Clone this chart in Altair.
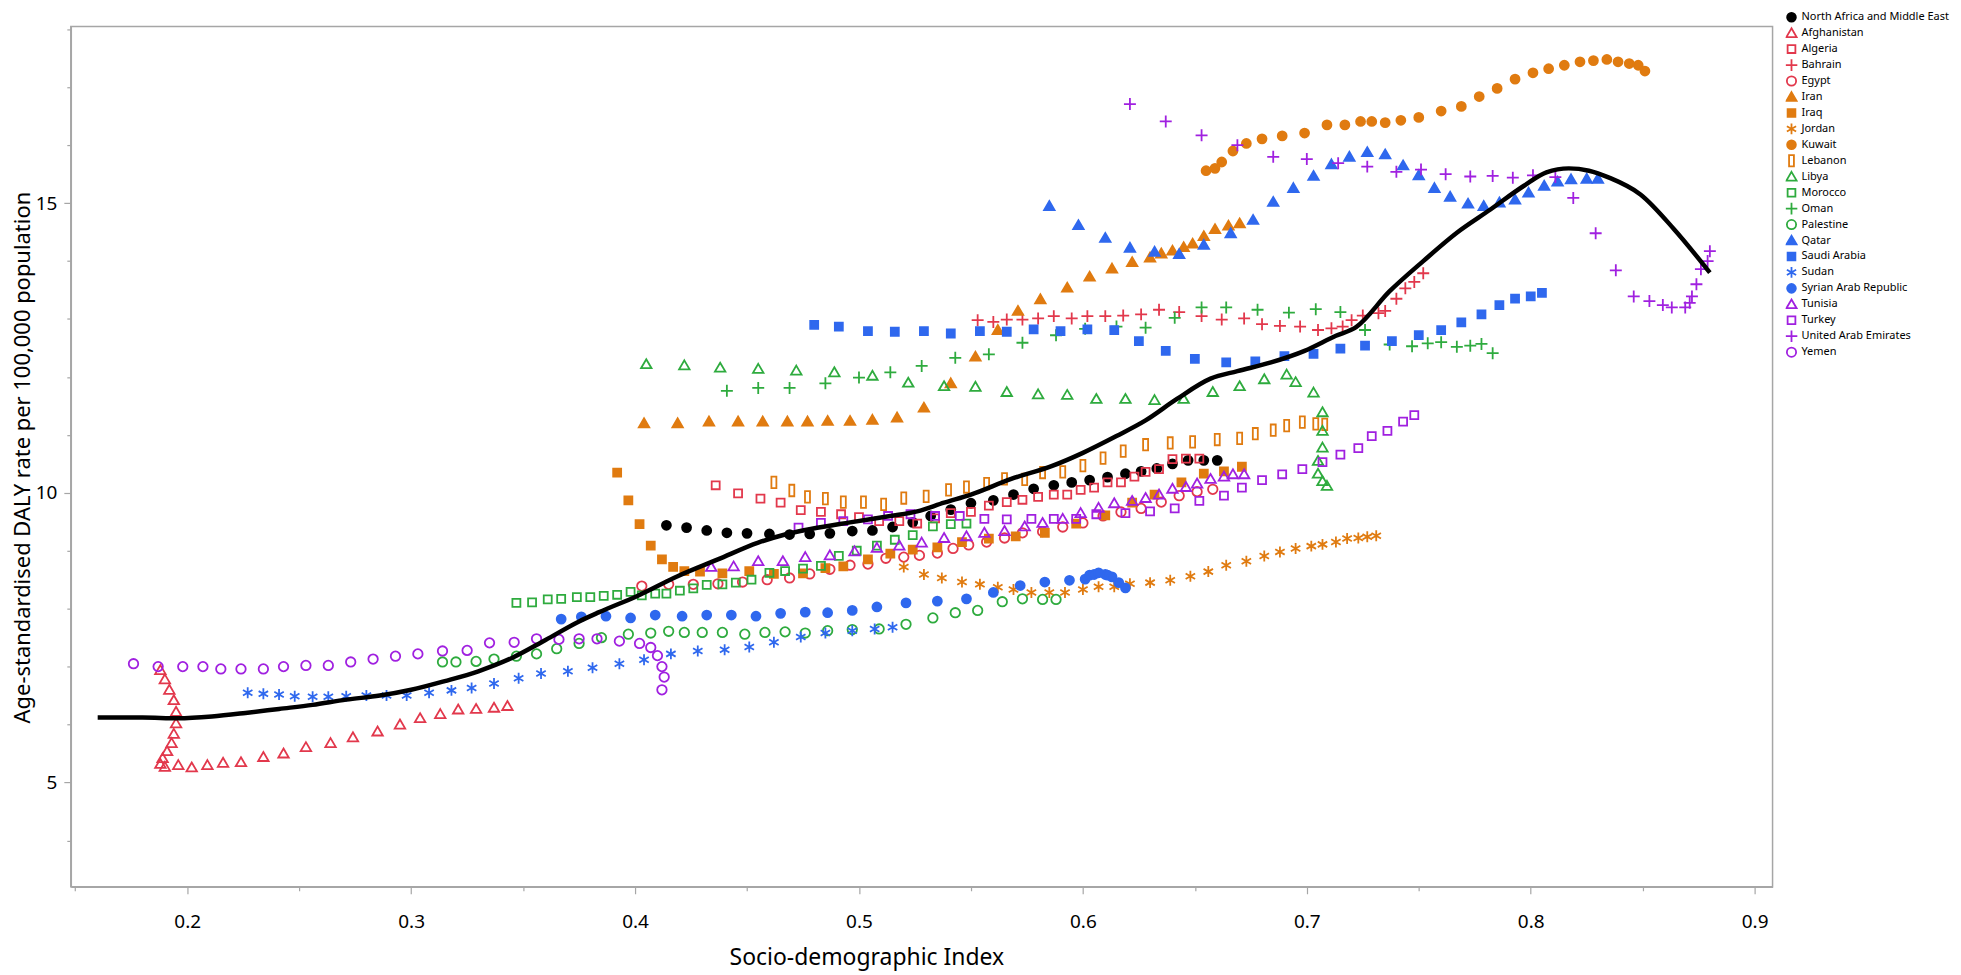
import altair as alt
import pandas as pd

SERIES = ["North Africa and Middle East", "Afghanistan", "Algeria", "Bahrain", "Egypt", "Iran", "Iraq",
          "Jordan", "Kuwait", "Lebanon", "Libya", "Morocco", "Oman", "Palestine", "Qatar",
          "Saudi Arabia", "Sudan", "Syrian Arab Republic", "Tunisia", "Turkey",
          "United Arab Emirates", "Yemen"]

RED, ORANGE, GREEN, BLUE, PURPLE = "#E2384C", "#E07B10", "#2EAB3E", "#2F68EE", "#A020E0"
STROKES = ["#000000", RED, RED, RED, RED, ORANGE, ORANGE, ORANGE, ORANGE, ORANGE,
           GREEN, GREEN, GREEN, GREEN, BLUE, BLUE, BLUE, BLUE, PURPLE, PURPLE, PURPLE, PURPLE]
T = "transparent"
FILLS = ["#000000", T, T, T, T, ORANGE, ORANGE, T, ORANGE, T,
         T, T, T, T, BLUE, BLUE, T, BLUE, T, T, T, T]

# marker outlines in Vega's custom-symbol unit box
CIRC_F = "M0.9,0A0.9,0.9 0 1,1 -0.9,0A0.9,0.9 0 1,1 0.9,0Z"
CIRC_O = "M0.95,0A0.95,0.95 0 1,1 -0.95,0A0.95,0.95 0 1,1 0.95,0Z"
SQ = "M-0.8,-0.8L0.8,-0.8L0.8,0.8L-0.8,0.8Z"
TRI = "M0,-1L1.05,0.8L-1.05,0.8Z"
PLUS = "M-1.2,0L1.2,0M0,-1.2L0,1.2"
STAR = "M0,-1.1L0,1.1M-0.95,-0.55L0.95,0.55M-0.95,0.55L0.95,-0.55"
TALL = "M-0.5,-1.15L0.5,-1.15L0.5,1.15L-0.5,1.15Z"
SHAPES = [CIRC_F, TRI, SQ, PLUS, CIRC_O, TRI, SQ, STAR, CIRC_F, TALL,
          TRI, SQ, PLUS, CIRC_O, TRI, SQ, STAR, CIRC_F,
          TRI, SQ, PLUS, CIRC_O]

NAME_X = [0.414, 0.423, 0.432, 0.441, 0.450, 0.460, 0.469, 0.478, 0.487, 0.497, 0.506, 0.515, 0.524, 0.532, 0.541,
          0.550, 0.560, 0.569, 0.578, 0.587, 0.595, 0.603, 0.611, 0.619, 0.626, 0.633, 0.640, 0.647, 0.654, 0.660]
NAME_Y = [9.44, 9.40, 9.35, 9.31, 9.30, 9.29, 9.28, 9.29, 9.30, 9.34, 9.35, 9.41, 9.49, 9.60, 9.71,
          9.82, 9.87, 9.97, 10.07, 10.13, 10.18, 10.22, 10.27, 10.33, 10.37, 10.42, 10.50, 10.56, 10.56, 10.56]

AFG_X = [0.188, 0.190, 0.192, 0.194, 0.195, 0.195, 0.194, 0.193, 0.191, 0.189, 0.188, 0.190, 0.196,
         0.202, 0.209, 0.216, 0.224, 0.234, 0.243, 0.253, 0.264, 0.274, 0.285, 0.295, 0.304, 0.313, 0.321,
         0.329, 0.337, 0.343]
AFG_Y = [6.94, 6.78, 6.60, 6.42, 6.22, 6.02, 5.84, 5.68, 5.54, 5.42, 5.32, 5.27, 5.30,
         5.26, 5.30, 5.34, 5.35, 5.44, 5.50, 5.61, 5.68, 5.78, 5.88, 6.00, 6.11, 6.18, 6.26,
         6.27, 6.29, 6.32]

DZA_X = [0.436, 0.446, 0.456, 0.465, 0.474, 0.483, 0.492, 0.500, 0.509, 0.518, 0.526, 0.534, 0.541, 0.550, 0.558,
         0.566, 0.573, 0.580, 0.587, 0.593, 0.599, 0.605, 0.611, 0.617, 0.623, 0.628, 0.634, 0.640, 0.646, 0.652]
DZA_Y = [10.13, 9.99, 9.90, 9.83, 9.70, 9.67, 9.63, 9.58, 9.51, 9.51, 9.47, 9.56, 9.65, 9.67, 9.78,
         9.84, 9.88, 9.93, 9.97, 9.97, 10.05, 10.09, 10.18, 10.18, 10.28, 10.36, 10.41, 10.58, 10.59, 10.59]

BHR_X = [0.553, 0.560, 0.566, 0.573, 0.580, 0.587, 0.595, 0.602, 0.610, 0.618, 0.626, 0.634, 0.643, 0.653, 0.662,
         0.672, 0.680, 0.688, 0.697, 0.705, 0.711, 0.716, 0.720, 0.725, 0.732, 0.735, 0.740, 0.744, 0.748, 0.752]
BHR_Y = [12.98, 12.95, 12.99, 12.99, 13.01, 13.05, 13.01, 13.05, 13.05, 13.06, 13.08, 13.16, 13.12, 13.05, 12.99,
         13.01, 12.91, 12.88, 12.87, 12.81, 12.84, 12.87, 12.98, 13.06, 13.10, 13.14, 13.35, 13.53, 13.64, 13.79]

EGY_X = [0.403, 0.415, 0.426, 0.437, 0.448, 0.459, 0.469, 0.478, 0.487, 0.496, 0.504, 0.512, 0.520, 0.527, 0.535,
         0.542, 0.549, 0.557, 0.565, 0.573, 0.582, 0.591, 0.600, 0.609, 0.617, 0.626, 0.635, 0.643, 0.651, 0.658]
EGY_Y = [8.39, 8.42, 8.42, 8.43, 8.46, 8.50, 8.53, 8.60, 8.68, 8.75, 8.77, 8.87, 8.89, 8.92, 8.96,
         9.04, 9.10, 9.15, 9.22, 9.31, 9.33, 9.41, 9.48, 9.60, 9.67, 9.73, 9.84, 9.95, 10.02, 10.06]

IRN_X = [0.404, 0.419, 0.433, 0.446, 0.457, 0.468, 0.477, 0.486, 0.496, 0.506, 0.517, 0.529, 0.541, 0.552, 0.562,
         0.571, 0.581, 0.593, 0.603, 0.613, 0.622, 0.630, 0.635, 0.640, 0.645, 0.649, 0.654, 0.659, 0.665, 0.670]
IRN_Y = [11.20, 11.20, 11.23, 11.23, 11.23, 11.23, 11.23, 11.24, 11.24, 11.26, 11.30, 11.47, 11.89, 12.35, 12.81,
         13.14, 13.34, 13.54, 13.73, 13.87, 13.98, 14.06, 14.13, 14.18, 14.24, 14.30, 14.43, 14.55, 14.61, 14.65]

IRQ_X = [0.392, 0.397, 0.402, 0.407, 0.412, 0.417, 0.422, 0.429, 0.439, 0.451, 0.462, 0.475, 0.485, 0.493, 0.504,
         0.514, 0.524, 0.535, 0.546, 0.558, 0.570, 0.583, 0.597, 0.610, 0.622, 0.632, 0.644, 0.654, 0.663, 0.671]
IRQ_Y = [10.35, 9.87, 9.46, 9.09, 8.85, 8.72, 8.65, 8.64, 8.61, 8.65, 8.60, 8.61, 8.70, 8.73, 8.85,
         8.95, 9.02, 9.06, 9.15, 9.21, 9.25, 9.31, 9.47, 9.61, 9.83, 9.97, 10.18, 10.33, 10.37, 10.45]

JOR_X = [0.520, 0.529, 0.537, 0.546, 0.554, 0.562, 0.569, 0.577, 0.585, 0.592, 0.600, 0.607, 0.614, 0.621, 0.630,
         0.639, 0.648, 0.656, 0.664, 0.673, 0.681, 0.688, 0.695, 0.702, 0.707, 0.713, 0.718, 0.723, 0.727, 0.731]
JOR_Y = [8.72, 8.59, 8.53, 8.46, 8.42, 8.37, 8.33, 8.28, 8.28, 8.28, 8.33, 8.38, 8.38, 8.43, 8.45,
         8.49, 8.56, 8.64, 8.75, 8.82, 8.91, 8.98, 9.04, 9.08, 9.11, 9.15, 9.21, 9.22, 9.24, 9.26]

KWT_X = [0.655, 0.659, 0.662, 0.667, 0.673, 0.680, 0.689, 0.699, 0.709, 0.717, 0.724, 0.729, 0.735, 0.742, 0.750,
         0.760, 0.769, 0.777, 0.785, 0.793, 0.801, 0.808, 0.815, 0.822, 0.828, 0.834, 0.839, 0.844, 0.848, 0.851]
KWT_Y = [15.56, 15.60, 15.71, 15.90, 16.03, 16.11, 16.16, 16.21, 16.35, 16.35, 16.41, 16.41, 16.39, 16.43, 16.48,
         16.59, 16.67, 16.84, 16.98, 17.14, 17.25, 17.32, 17.38, 17.44, 17.46, 17.48, 17.44, 17.41, 17.38, 17.28]

LBN_X = [0.462, 0.470, 0.477, 0.485, 0.493, 0.502, 0.511, 0.520, 0.530, 0.540, 0.548, 0.557, 0.565, 0.574, 0.582,
         0.591, 0.600, 0.609, 0.618, 0.628, 0.639, 0.649, 0.660, 0.670, 0.677, 0.685, 0.691, 0.698, 0.704, 0.708]
LBN_Y = [10.18, 10.04, 9.93, 9.90, 9.84, 9.84, 9.80, 9.91, 9.94, 10.05, 10.10, 10.16, 10.24, 10.23, 10.35,
         10.36, 10.47, 10.60, 10.72, 10.83, 10.86, 10.88, 10.92, 10.94, 11.02, 11.08, 11.16, 11.22, 11.19, 11.18]

LBY_X = [0.405, 0.422, 0.438, 0.455, 0.472, 0.489, 0.506, 0.522, 0.538, 0.552, 0.566, 0.580, 0.593, 0.606, 0.619,
         0.632, 0.645, 0.658, 0.670, 0.681, 0.691, 0.695, 0.703, 0.707, 0.707, 0.707, 0.705, 0.705, 0.707, 0.709]
LBY_Y = [12.22, 12.20, 12.16, 12.14, 12.11, 12.08, 12.02, 11.90, 11.84, 11.83, 11.74, 11.70, 11.69, 11.62, 11.62,
         11.60, 11.62, 11.74, 11.84, 11.96, 12.04, 11.91, 11.73, 11.39, 11.07, 10.78, 10.55, 10.33, 10.20, 10.12]

MAR_X = [0.347, 0.354, 0.361, 0.367, 0.374, 0.380, 0.386, 0.392, 0.398, 0.403, 0.409, 0.414, 0.420, 0.426, 0.432,
         0.439, 0.445, 0.452, 0.460, 0.467, 0.475, 0.483, 0.491, 0.499, 0.508, 0.516, 0.524, 0.533, 0.541, 0.548]
MAR_Y = [8.10, 8.11, 8.16, 8.17, 8.20, 8.20, 8.22, 8.24, 8.29, 8.23, 8.26, 8.26, 8.31, 8.35, 8.41,
         8.42, 8.45, 8.50, 8.62, 8.65, 8.69, 8.74, 8.91, 9.00, 9.09, 9.19, 9.27, 9.42, 9.46, 9.47]

OMN_X = [0.441, 0.455, 0.469, 0.485, 0.500, 0.514, 0.528, 0.543, 0.558, 0.573, 0.588, 0.601, 0.615, 0.628, 0.641,
         0.653, 0.664, 0.678, 0.692, 0.704, 0.715, 0.726, 0.737, 0.747, 0.754, 0.760, 0.767, 0.773, 0.778, 0.783]
OMN_Y = [11.76, 11.81, 11.81, 11.89, 11.99, 12.08, 12.19, 12.33, 12.39, 12.59, 12.72, 12.83, 12.87, 12.85, 13.02,
         13.20, 13.20, 13.16, 13.11, 13.17, 13.12, 12.81, 12.56, 12.53, 12.58, 12.60, 12.52, 12.54, 12.57, 12.41]

PSE_X = [0.314, 0.320, 0.329, 0.337, 0.347, 0.356, 0.365, 0.375, 0.385, 0.397, 0.407, 0.415, 0.422, 0.430, 0.439,
         0.449, 0.458, 0.467, 0.476, 0.486, 0.497, 0.509, 0.521, 0.533, 0.543, 0.553, 0.564, 0.573, 0.582, 0.588]
PSE_Y = [7.08, 7.08, 7.09, 7.13, 7.18, 7.22, 7.31, 7.40, 7.50, 7.56, 7.58, 7.61, 7.59, 7.59, 7.59,
         7.56, 7.59, 7.60, 7.58, 7.62, 7.64, 7.65, 7.73, 7.84, 7.93, 7.97, 8.12, 8.17, 8.16, 8.16]

QAT_X = [0.585, 0.598, 0.610, 0.621, 0.632, 0.643, 0.654, 0.666, 0.676, 0.685, 0.694, 0.703, 0.711, 0.719, 0.727,
         0.735, 0.743, 0.750, 0.757, 0.764, 0.772, 0.779, 0.786, 0.793, 0.799, 0.806, 0.812, 0.818, 0.825, 0.830]
QAT_Y = [14.95, 14.62, 14.40, 14.23, 14.16, 14.12, 14.28, 14.48, 14.71, 15.02, 15.26, 15.47, 15.67, 15.80, 15.88,
         15.84, 15.65, 15.48, 15.26, 15.11, 14.99, 14.95, 15.01, 15.06, 15.18, 15.30, 15.37, 15.41, 15.42, 15.42]

SAU_X = [0.480, 0.491, 0.504, 0.516, 0.529, 0.541, 0.554, 0.566, 0.578, 0.590, 0.602, 0.614, 0.625, 0.637, 0.650,
         0.664, 0.677, 0.690, 0.703, 0.715, 0.726, 0.738, 0.750, 0.760, 0.769, 0.778, 0.786, 0.793, 0.800, 0.805]
SAU_Y = [12.90, 12.87, 12.79, 12.78, 12.79, 12.75, 12.79, 12.78, 12.82, 12.79, 12.82, 12.81, 12.62, 12.45, 12.31,
         12.25, 12.27, 12.36, 12.40, 12.49, 12.54, 12.62, 12.72, 12.81, 12.94, 13.08, 13.24, 13.35, 13.39, 13.45]

SDN_X = [0.227, 0.234, 0.241, 0.248, 0.256, 0.263, 0.271, 0.280, 0.289, 0.298, 0.308, 0.318, 0.327, 0.337, 0.348,
         0.358, 0.370, 0.381, 0.393, 0.404, 0.416, 0.428, 0.440, 0.451, 0.462, 0.474, 0.485, 0.497, 0.507, 0.515]
SDN_Y = [6.55, 6.53, 6.52, 6.49, 6.48, 6.48, 6.49, 6.50, 6.50, 6.50, 6.55, 6.59, 6.63, 6.71, 6.80,
         6.88, 6.92, 6.98, 7.05, 7.12, 7.22, 7.27, 7.29, 7.34, 7.42, 7.51, 7.58, 7.62, 7.65, 7.68]

SYR_X = [0.367, 0.376, 0.387, 0.398, 0.409, 0.421, 0.432, 0.443, 0.454, 0.465, 0.476, 0.486, 0.497, 0.508, 0.521,
         0.535, 0.548, 0.560, 0.572, 0.583, 0.594, 0.601, 0.603, 0.605, 0.607, 0.610, 0.611, 0.613, 0.616, 0.619]
SYR_Y = [7.82, 7.86, 7.87, 7.84, 7.89, 7.87, 7.89, 7.89, 7.87, 7.92, 7.94, 7.93, 7.97, 8.03, 8.10,
         8.13, 8.17, 8.28, 8.40, 8.46, 8.49, 8.51, 8.58, 8.59, 8.62, 8.59, 8.58, 8.55, 8.45, 8.36]

TUN_X = [0.434, 0.444, 0.455, 0.466, 0.476, 0.487, 0.498, 0.508, 0.518, 0.528, 0.538, 0.548, 0.556, 0.565, 0.574,
         0.582, 0.591, 0.599, 0.607, 0.614, 0.622, 0.628, 0.634, 0.640, 0.646, 0.651, 0.657, 0.663, 0.667, 0.672]
TUN_Y = [8.72, 8.73, 8.82, 8.82, 8.89, 8.92, 8.99, 9.05, 9.09, 9.14, 9.22, 9.25, 9.31, 9.34, 9.42,
         9.48, 9.55, 9.65, 9.74, 9.82, 9.86, 9.91, 9.97, 10.07, 10.10, 10.16, 10.24, 10.28, 10.32, 10.32]

TUR_X = [0.473, 0.483, 0.493, 0.504, 0.513, 0.523, 0.534, 0.545, 0.556, 0.566, 0.577, 0.587, 0.597, 0.606, 0.619,
         0.630, 0.641, 0.652, 0.663, 0.671, 0.680, 0.689, 0.698, 0.707, 0.715, 0.723, 0.729, 0.736, 0.743, 0.748]
TUR_Y = [9.40, 9.48, 9.51, 9.54, 9.60, 9.63, 9.60, 9.60, 9.55, 9.54, 9.55, 9.55, 9.55, 9.63, 9.65,
         9.68, 9.73, 9.86, 9.95, 10.09, 10.22, 10.32, 10.41, 10.53, 10.66, 10.77, 10.98, 11.07, 11.23, 11.34]

ARE_X = [0.621, 0.637, 0.653, 0.669, 0.685, 0.700, 0.714, 0.727, 0.740, 0.751, 0.762, 0.773, 0.783, 0.792, 0.801,
         0.811, 0.819, 0.829, 0.838, 0.846, 0.853, 0.859, 0.863, 0.869, 0.871, 0.872, 0.874, 0.876, 0.879, 0.880]
ARE_Y = [16.71, 16.41, 16.17, 16.00, 15.80, 15.76, 15.69, 15.63, 15.54, 15.58, 15.50, 15.46, 15.47, 15.44, 15.48,
         15.45, 15.09, 14.48, 13.84, 13.39, 13.31, 13.24, 13.20, 13.20, 13.28, 13.39, 13.60, 13.86, 14.00, 14.17]

YEM_X = [0.176, 0.187, 0.198, 0.207, 0.215, 0.224, 0.234, 0.243, 0.253, 0.263, 0.273, 0.283, 0.293, 0.303, 0.314,
         0.325, 0.335, 0.346, 0.356, 0.366, 0.375, 0.383, 0.393, 0.402, 0.407, 0.410, 0.412, 0.413, 0.412]
YEM_Y = [7.05, 7.00, 7.00, 7.00, 6.96, 6.96, 6.96, 7.00, 7.02, 7.02, 7.08, 7.13, 7.18, 7.22, 7.27,
         7.28, 7.41, 7.42, 7.48, 7.47, 7.48, 7.48, 7.44, 7.40, 7.33, 7.19, 7.00, 6.82, 6.60]

FIT_X = [0.160, 0.180, 0.196, 0.211, 0.226, 0.241, 0.256, 0.271, 0.286, 0.300, 0.315, 0.330, 0.345, 0.360, 0.375,
         0.384, 0.401, 0.419, 0.437, 0.455, 0.467, 0.479, 0.496, 0.514, 0.526, 0.538, 0.550, 0.568, 0.586, 0.600,
         0.615, 0.628, 0.642, 0.657, 0.669, 0.684, 0.699, 0.713, 0.722, 0.737, 0.752, 0.767, 0.782, 0.797, 0.807,
         0.817, 0.826, 0.835, 0.849, 0.864, 0.880]
FIT_Y = [6.12, 6.12, 6.11, 6.14, 6.20, 6.27, 6.34, 6.43, 6.50, 6.60, 6.75, 6.92, 7.15, 7.46, 7.78,
         7.94, 8.22, 8.56, 8.85, 9.14, 9.28, 9.38, 9.49, 9.60, 9.68, 9.83, 9.97, 10.24, 10.46, 10.69,
         10.98, 11.25, 11.62, 11.97, 12.10, 12.25, 12.45, 12.71, 12.86, 13.48, 14.00, 14.49, 14.89, 15.30, 15.53,
         15.60, 15.56, 15.44, 15.15, 14.55, 13.80]

SERIES_XY = [(NAME_X, NAME_Y), (AFG_X, AFG_Y), (DZA_X, DZA_Y), (BHR_X, BHR_Y), (EGY_X, EGY_Y),
             (IRN_X, IRN_Y), (IRQ_X, IRQ_Y), (JOR_X, JOR_Y), (KWT_X, KWT_Y), (LBN_X, LBN_Y),
             (LBY_X, LBY_Y), (MAR_X, MAR_Y), (OMN_X, OMN_Y), (PSE_X, PSE_Y), (QAT_X, QAT_Y),
             (SAU_X, SAU_Y), (SDN_X, SDN_Y), (SYR_X, SYR_Y), (TUN_X, TUN_Y), (TUR_X, TUR_Y),
             (ARE_X, ARE_Y), (YEM_X, YEM_Y)]

rows = []
for name, (xs, ys) in zip(SERIES, SERIES_XY):
    for xv, yv in zip(xs, ys):
        rows.append({"series": name, "sdi": xv, "daly": yv})
points_df = pd.DataFrame(rows)
fit_df = pd.DataFrame({"sdi": FIT_X, "daly": FIT_Y})

FONT = "Noto Sans"
X_TICKS = [round(0.15 + 0.05 * i, 2) for i in range(16)]
Y_TICKS = list(range(4, 19))

x_enc = alt.X("sdi:Q", title="Socio-demographic Index",
              scale=alt.Scale(domain=[0.148, 0.908], nice=False, zero=False),
              axis=alt.Axis(values=X_TICKS, grid=False,
                            labelExpr="round(datum.value*20) % 2 == 0 ? format(datum.value, '.1f') : ''",
                            tickSize={"condition": {"test": "round(datum.value*20) % 2 == 0", "value": 7}, "value": 4},
                            labelPadding=19, titleX=798, titleFontSize=23, titleY=71, titleBaseline="middle"))
y_enc = alt.Y("daly:Q", title="Age-standardised DALY rate per 100,000 population",
              scale=alt.Scale(domain=[3.2, 18.05], nice=False, zero=False),
              axis=alt.Axis(values=Y_TICKS, grid=False,
                            labelExpr="datum.value % 5 == 0 ? format(datum.value, 'd') : ''",
                            tickSize={"condition": {"test": "datum.value % 5 == 0", "value": 7}, "value": 4},
                            labelPadding=7, titleX=-48, titleFontSize=22, titleY=432, titleBaseline="middle"))

leg = alt.Legend(orient="none", legendX=1720, legendY=-17, labelFontSize=11, labelFont=FONT,
                 labelColor="#000000", symbolStrokeWidth=1.8, symbolSize=95, rowPadding=0,
                 clipHeight=15.5, labelLimit=300, labelOffset=4)

points = alt.Chart(points_df).mark_point(strokeWidth=1.8, opacity=1, size=100).encode(
    x=x_enc,
    y=y_enc,
    fill=alt.Fill("series:N", title=None, scale=alt.Scale(domain=SERIES, range=FILLS), legend=leg),
    stroke=alt.Stroke("series:N", title=None, scale=alt.Scale(domain=SERIES, range=STROKES), legend=leg),
    shape=alt.Shape("series:N", title=None, scale=alt.Scale(domain=SERIES, range=SHAPES), legend=leg),
)

fit = alt.Chart(fit_df).mark_line(color="black", strokeWidth=4.5, interpolate="monotone").encode(
    x=alt.X("sdi:Q"), y=alt.Y("daly:Q"))

chart = alt.layer(points, fit).properties(
    width=1707, height=863,
    autosize=alt.AutoSizeParams(type="none"),
    padding={"left": 63, "top": 17, "right": 181, "bottom": 85},
).configure_view(
    stroke="#a6a6a6", strokeWidth=1.5
).configure_axis(
    labelFont=FONT, titleFont=FONT, labelFontSize=19, titleFontSize=22,
    labelColor="#000000", titleColor="#000000", titleFontWeight="normal",
    domainColor="#a6a6a6", domainWidth=1.5, tickColor="#a6a6a6", tickWidth=1.2
)

chart.save("out.html", embed_options={"renderer": "svg", "actions": False})
